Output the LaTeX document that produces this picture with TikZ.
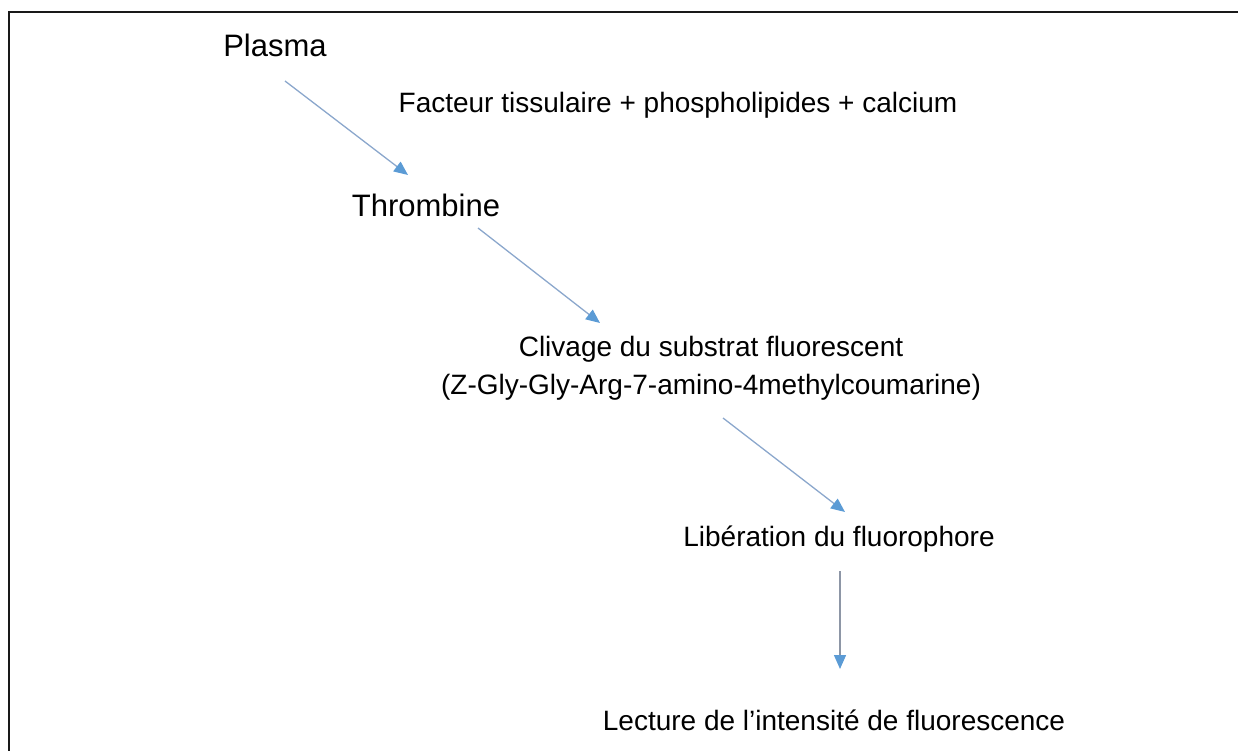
\documentclass[tikz,border=0pt]{standalone}
\usepackage{fontspec}
\setmainfont{Liberation Sans}
\usetikzlibrary{arrows.meta}
\definecolor{linkblue}{HTML}{8BA7CC}
\definecolor{tipblue}{HTML}{5B9BD5}
\definecolor{linkgray}{HTML}{8D96A6}
\tikzset{
  big/.style={font=\fontsize{31}{36}\selectfont, inner sep=0pt, anchor=center},
  small/.style={font=\fontsize{28}{38}\selectfont, inner sep=0pt, anchor=center, align=center},
  link/.style={draw=linkblue, line width=1.3pt, -{Triangle[length=14pt,width=12pt,color=tipblue]}},
  vlink/.style={draw=linkgray, line width=1.3pt, -{Triangle[length=14pt,width=12pt,color=tipblue]}},
}
\begin{document}
\begin{tikzpicture}[x=1pt,y=-1pt]
  \useasboundingbox (0,0) rectangle (1238,751);
  % outer frame (left and top edges)
  \draw[line width=2pt, black!90] (8.5,752) -- (8.5,12) -- (1239,12);

  \node[big]   (plasma)     at (275,45)  {Plasma};
  \node[small] (facteur)    at (678,105) {Facteur tissulaire + phospholipides + calcium};
  \node[big]   (thrombine)  at (426,205) {Thrombine};
  \node[small] (clivage)    at (711,368) {Clivage du substrat fluorescent\\(Z-Gly-Gly-Arg-7-amino-4methylcoumarine)};
  \node[small] (liberation) at (839,539) {Libération du fluorophore};
  \node[small] (lecture)    at (834,720) {Lecture de l’intensité de fluorescence};

  \coordinate (a1s) at (285,81);   \coordinate (a1e) at (408,175);
  \coordinate (a2s) at (478,228);  \coordinate (a2e) at (600,323);
  \coordinate (a3s) at (723,418);  \coordinate (a3e) at (845,512);
  \coordinate (a4s) at (840,571);  \coordinate (a4e) at (840,669);

  \draw[link]  (a1s) -- (a1e);
  \draw[link]  (a2s) -- (a2e);
  \draw[link]  (a3s) -- (a3e);
  \draw[vlink] (a4s) -- (a4e);
\end{tikzpicture}
\end{document}
